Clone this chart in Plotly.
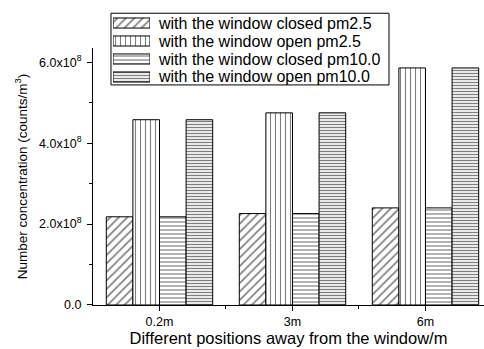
import plotly.graph_objects as go

# Measurement positions (distance from the window) and concentrations in counts/m^3
positions = ["0.2m", "3m", "6m"]
closed_pm25 = [2.18e8, 2.26e8, 2.40e8]
open_pm25 = [4.58e8, 4.75e8, 5.86e8]
closed_pm10 = [2.18e8, 2.26e8, 2.40e8]
open_pm10 = [4.58e8, 4.75e8, 5.86e8]

y_tick_vals = [0, 2e8, 4e8, 6e8]
y_tick_text = ["0.0", "2.0x10<sup>8</sup>", "4.0x10<sup>8</sup>", "6.0x10<sup>8</sup>"]

x_pos = list(range(len(positions)))

series = [
    ("with the window closed pm2.5", closed_pm25, dict(shape="/", size=6, solidity=0.28)),
    ("with the window open pm2.5", open_pm25, dict(shape="|", size=5, solidity=0.22)),
    ("with the window closed pm10.0", closed_pm10, dict(shape="-", size=4, solidity=0.3)),
    ("with the window open pm10.0", open_pm10, dict(shape="-", size=3, solidity=0.45)),
]

font_family = "Liberation Sans"

# Plot area spans pixels 10..305 vertically; the data axes use the lower part,
# the key (legend) sits on its own small axis pair above.
fig = go.Figure()
for i, (name, vals, pat) in enumerate(series):
    marker = dict(
        color="white",
        line=dict(color="black", width=1),
        pattern=dict(fgcolor="black", bgcolor="white", fillmode="overlay", **pat),
    )
    fig.add_trace(go.Bar(x=x_pos, y=vals, name=name, marker=marker, showlegend=False))
    # key swatch for this series
    fig.add_trace(go.Bar(
        x=[1], y=[i], orientation="h", width=0.56,
        xaxis="x2", yaxis="y2", marker=marker,
        showlegend=False, hoverinfo="skip",
    ))
    fig.add_annotation(
        text=name, xref="paper", yref="y2", x=0.161, y=i,
        xanchor="left", yanchor="middle", showarrow=False,
        font=dict(size=16, family=font_family, color="black"),
    )

# frame around the key
fig.add_shape(
    type="rect", xref="paper", yref="paper",
    x0=0.046, x1=0.757, y0=0.746, y1=0.989,
    line=dict(color="black", width=1), fillcolor="rgba(0,0,0,0)", layer="above",
)

fig.update_layout(
    width=484, height=349,
    margin=dict(l=93, r=0, t=10, b=44),
    paper_bgcolor="white", plot_bgcolor="white",
    barmode="group", bargap=0.2, bargroupgap=0,
    font=dict(family=font_family, color="black"),
    showlegend=False,
    xaxis=dict(
        range=[-0.5, 2.44],
        tickmode="array", tickvals=x_pos, ticktext=positions,
        ticks="outside", ticklen=5, tickcolor="black",
        minor=dict(tickmode="array", tickvals=[0.5, 1.5], ticks="outside", ticklen=3, tickcolor="black"),
        showline=True, linecolor="black", linewidth=1,
        showgrid=False, zeroline=False,
        tickfont=dict(size=12.5),
        title=dict(text="Different positions away from the window/m", font=dict(size=16.5), standoff=4),
    ),
    yaxis=dict(
        domain=[0, 0.8712],
        range=[0, 6.353e8],
        tickmode="array", tickvals=y_tick_vals, ticktext=y_tick_text,
        ticks="outside", ticklen=5, tickcolor="black",
        minor=dict(tickmode="linear", tick0=0, dtick=1e8, ticks="outside", ticklen=3, tickcolor="black"),
        showline=True, linecolor="black", linewidth=1,
        showgrid=False, zeroline=False,
        tickfont=dict(size=12.5), ticklabelstandoff=3,
        title=dict(text="Number concentration (counts/m<sup>3</sup>)", font=dict(size=13.5), standoff=8),
    ),
    xaxis2=dict(
        domain=[0.0512, 0.1458], anchor="y2", range=[0, 1],
        visible=False, fixedrange=True,
    ),
    yaxis2=dict(
        domain=[0.7424, 0.9864], anchor="x2", range=[3.5, -0.5],
        visible=False, fixedrange=True,
    ),
)

fig.write_html("out.html")
